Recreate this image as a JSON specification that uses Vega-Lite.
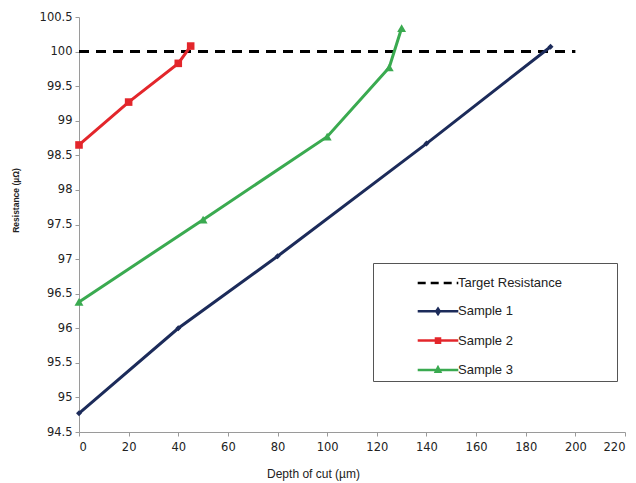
{
  "$schema": "https://vega.github.io/schema/vega-lite/v6.json",
  "width": 546,
  "height": 415,
  "autosize": {"type": "none"},
  "padding": {"left": 79, "top": 17, "right": 11, "bottom": 51},
  "background": "white",
  "config": {"view": {"stroke": null}, "font": "DejaVu Sans"},
  "datasets": {
    "target": [
      {"series": "Target Resistance", "depth": 0, "resistance": 100},
      {"series": "Target Resistance", "depth": 200, "resistance": 100}
    ],
    "samples": [
      {"series": "Sample 1", "depth": 0, "resistance": 94.77},
      {"series": "Sample 1", "depth": 40, "resistance": 96.0},
      {"series": "Sample 1", "depth": 80, "resistance": 97.04},
      {"series": "Sample 1", "depth": 140, "resistance": 98.67},
      {"series": "Sample 1", "depth": 190, "resistance": 100.07},
      {"series": "Sample 2", "depth": 0, "resistance": 98.65},
      {"series": "Sample 2", "depth": 20, "resistance": 99.27},
      {"series": "Sample 2", "depth": 40, "resistance": 99.83},
      {"series": "Sample 2", "depth": 45, "resistance": 100.08},
      {"series": "Sample 3", "depth": 0, "resistance": 96.38},
      {"series": "Sample 3", "depth": 50, "resistance": 97.57},
      {"series": "Sample 3", "depth": 100, "resistance": 98.77},
      {"series": "Sample 3", "depth": 125, "resistance": 99.77},
      {"series": "Sample 3", "depth": 130, "resistance": 100.34}
    ]
  },
  "encoding": {
    "x": {
      "field": "depth",
      "type": "quantitative",
      "scale": {"domain": [0, 220], "nice": false},
      "axis": {
        "values": [0, 20, 40, 60, 80, 100, 120, 140, 160, 180, 200, 220],
        "title": "Depth of cut (µm)",
        "grid": false,
        "domainColor": "#9a9a9a",
        "tickColor": "#9a9a9a",
        "tickSize": 4,
        "labelFontSize": 11.5,
        "labelColor": "#222222",
        "labelPadding": 5,
        "titleFont": "Liberation Sans",
        "titleFontSize": 12,
        "titleFontWeight": "normal",
        "titleColor": "#222222",
        "titleX": 234,
        "titleY": 41,
        "titleBaseline": "middle"
      }
    },
    "y": {
      "field": "resistance",
      "type": "quantitative",
      "scale": {"domain": [94.5, 100.5], "nice": false, "zero": false},
      "axis": {
        "values": [94.5, 95, 95.5, 96, 96.5, 97, 97.5, 98, 98.5, 99, 99.5, 100, 100.5],
        "format": "~g",
        "title": "Resistance (µΩ)",
        "grid": false,
        "domainColor": "#9a9a9a",
        "tickColor": "#9a9a9a",
        "tickSize": 4,
        "labelFontSize": 11.5,
        "labelColor": "#222222",
        "labelPadding": 3,
        "titleFont": "Liberation Sans",
        "titleFontSize": 8.5,
        "titleFontWeight": "bold",
        "titleColor": "#222222",
        "titleX": -64,
        "titleY": 183,
        "titleBaseline": "middle"
      }
    },
    "color": {
      "field": "series",
      "type": "nominal",
      "sort": null,
      "scale": {
        "domain": ["Target Resistance", "Sample 1", "Sample 2", "Sample 3"],
        "range": ["#000000", "#1c2b5a", "#e3262b", "#3aaa50"]
      },
      "legend": {
        "orient": "none",
        "legendX": 294,
        "legendY": 246,
        "title": null,
        "strokeColor": "#555555",
        "padding": 4,
        "symbolSize": 841,
        "symbolOffset": 45,
        "symbolStrokeWidth": 3,
        "labelOffset": 4,
        "labelFont": "Liberation Sans",
        "labelFontSize": 13,
        "labelColor": "#222222",
        "labelLimit": 300,
        "rowPadding": 5.3,
        "labelExpr": "datum.label + '\u00a0\u00a0\u00a0\u00a0\u00a0\u00a0\u00a0\u00a0\u00a0\u00a0\u00a0\u00a0\u00a0\u00a0\u200b'",
        "encode": {
          "symbols": {
            "update": {
              "shape": {"signal": "datum.value === 'Target Resistance' ? 'M-1.4,0H1.4' : datum.value === 'Sample 1' ? 'M-1.4,0H1.4M0,-0.18L0.12,0L0,0.18L-0.12,0Z' : datum.value === 'Sample 2' ? 'M-1.4,0H1.4M-0.14,-0.14H0.14V0.14H-0.14Z' : 'M-1.4,0H1.4M0,-0.17L0.15,0.12L-0.15,0.12Z'"},
              "strokeDash": {"signal": "datum.value === 'Target Resistance' ? [8, 5] : [1, 0]"},
              "fill": {"scale": "color", "field": "value"},
              "stroke": {"scale": "color", "field": "value"},
              "strokeWidth": {"value": 2.5},
              "opacity": {"value": 1}
            }
          }
        }
      }
    }
  },
  "layer": [
    {
      "data": {"name": "target"},
      "mark": {"type": "line", "strokeDash": [10, 7], "strokeWidth": 3}
    },
    {
      "data": {"name": "samples"},
      "mark": {"type": "line", "strokeWidth": 3}
    },
    {
      "data": {"name": "samples"},
      "mark": {"type": "point", "filled": true, "opacity": 1},
      "encoding": {
        "shape": {
          "field": "series",
          "type": "nominal",
          "scale": {"domain": ["Sample 1", "Sample 2", "Sample 3"], "range": ["diamond", "square", "triangle-up"]},
          "legend": null
        },
        "size": {
          "field": "series",
          "type": "nominal",
          "scale": {"domain": ["Sample 1", "Sample 2", "Sample 3"], "range": [35, 80, 40]},
          "legend": null
        }
      }
    }
  ]
}
